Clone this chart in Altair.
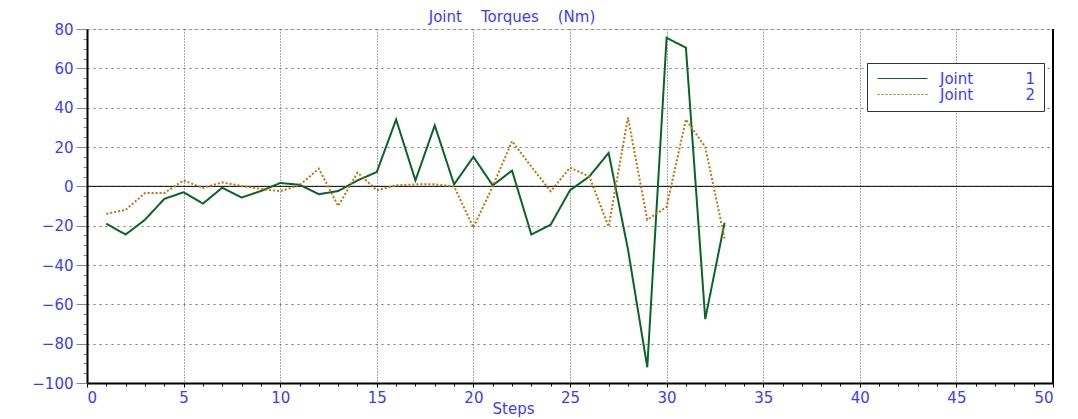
import altair as alt
import pandas as pd

steps = list(range(1, 34))
joint1 = [-19, -24.5, -17, -6.4, -3, -8.8, -0.7, -5.7, -2.4, 1.7, 0.8, -4, -2.4, 3, 7.3,
          34, 3, 31, 1, 15, 0.5, 8, -24.5, -19.5, -2, 5, 17, -32, -92, 75.5, 70.5, -67.5, -18.5]
joint2 = [-14, -12, -3.4, -3.4, 3, -0.8, 2, 0.2, -1.3, -2.5, 0.6, 9, -10, 7, -2,
          0.5, 1, 1, 0, -21, 0, 23, 10, -2.5, 9.5, 5, -20.5, 35, -17, -10.5, 34, 20, -26.5]
NB = "\u00a0"
series_names = ["Joint" + NB * 11 + "1", "Joint" + NB * 11 + "2"]
title_text = "Joint" + NB * 4 + "Torques" + NB * 4 + "(Nm)"
x_major = list(range(0, 51, 5))
x_minor = list(range(0, 51, 1))
y_major = list(range(-100, 81, 20))
y_minor = list(range(-100, 81, 5))

df = pd.DataFrame({
    "Steps": steps * 2,
    "Torque": joint1 + joint2,
    "Series": [series_names[0]] * len(steps) + [series_names[1]] * len(steps),
})
zero_df = pd.DataFrame({"y": [0]})
edge_df = pd.DataFrame({"x": [50]})

BLUE = "#3c3cff"
GREEN = "#0a6428"
ORANGE = "#c8700a"
FONT = "DejaVu Sans"

x_scale = alt.Scale(domain=[0, 50], nice=False, zero=False)
y_scale = alt.Scale(domain=[-100, 80], nice=False, zero=False)

x_axis = alt.Axis(values=x_major, title="Steps", orient="bottom", grid=True,
                  gridDash=[1, 2], gridColor="#555", gridWidth=1,
                  tickSize=4, tickColor="black", domainColor="black", domainWidth=2,
                  labelColor=BLUE, labelFont=FONT, labelFontSize=15, labelPadding=3,
                  titleColor=BLUE, titleFont=FONT, titleFontSize=15, titleFontWeight="normal",
                  titleX=426, titleY=25, titleBaseline="middle", format="d")
y_axis = alt.Axis(values=y_major, title=None, orient="left", grid=True,
                  gridDash=[2, 4], gridColor="#777", gridWidth=1,
                  tickSize=11, tickColor="#888", domainColor="black", domainWidth=2,
                  labelColor=BLUE, labelFont=FONT, labelFontSize=15, labelPadding=3, format="d")

x_minor_axis = alt.Axis(values=x_minor, title=None, orient="bottom", grid=False, labels=False,
                        tickSize=3, tickColor="black", domain=False)
y_minor_axis = alt.Axis(values=y_minor, title=None, orient="left", grid=False, labels=False,
                        tickSize=4, tickColor="#888", domain=False)

minor = alt.Chart(df).mark_point(opacity=0, size=1).encode(
    x=alt.X("Steps:Q", scale=x_scale, axis=x_minor_axis),
    y=alt.Y("Torque:Q", scale=y_scale, axis=y_minor_axis),
)

zero = alt.Chart(zero_df).mark_rule(color="black", strokeWidth=1).encode(
    y=alt.Y("y:Q", scale=y_scale, axis=None),
)
edge = alt.Chart(edge_df).mark_rule(color="black", strokeWidth=2).encode(
    x=alt.X("x:Q", scale=x_scale, axis=None),
)

legend = alt.Legend(title=None, orient="none", legendX=780, legendY=34,
                    symbolType="M-5,0H5", symbolSize=100, symbolStrokeWidth=1.2,
                    symbolFillColor="transparent", symbolOffset=20,
                    labelColor=BLUE, labelFont=FONT, labelFontSize=15, labelOffset=30,
                    rowPadding=-6, padding=8, strokeColor="#333", fillColor="white",
                    labelLimit=300)

lines = alt.Chart(df).mark_line(strokeWidth=2).encode(
    x=alt.X("Steps:Q", scale=x_scale, axis=x_axis),
    y=alt.Y("Torque:Q", scale=y_scale, axis=y_axis),
    color=alt.Color("Series:N", scale=alt.Scale(domain=series_names, range=[GREEN, ORANGE]),
                    legend=legend),
    strokeDash=alt.StrokeDash("Series:N", scale=alt.Scale(domain=series_names, range=[[1, 0], [2, 2]]),
                              legend=legend),
)

chart = alt.layer(minor, zero, edge, lines).resolve_axis(
    x="independent", y="independent"
).properties(
    width=966, height=354,
    title=alt.TitleParams(title_text, color=BLUE, font=FONT, fontSize=15,
                          fontWeight="normal", anchor="middle", dx=-58, dy=9, offset=6),
    autosize=alt.AutoSizeParams(type="none"),
    padding={"left": 79, "top": 21, "right": 17, "bottom": 35},
).configure_view(stroke="#888", strokeWidth=1).configure(background="white")

chart.save("out.html", embed_options={"renderer": "svg", "actions": False})
